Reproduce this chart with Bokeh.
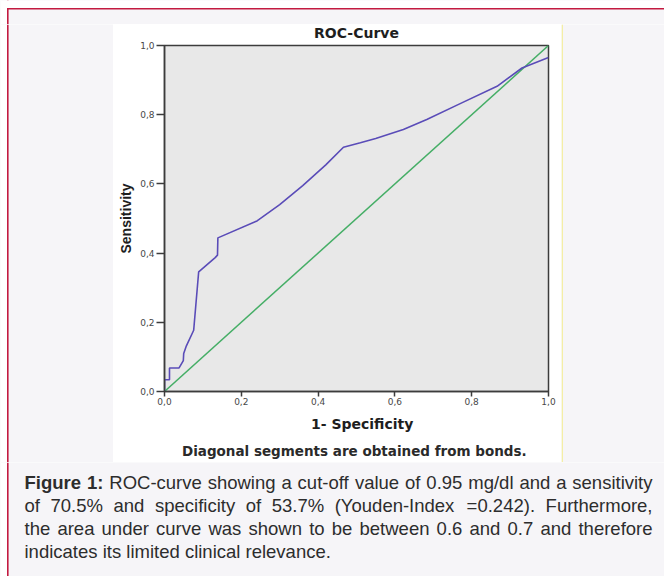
from bokeh.plotting import figure
from bokeh.models import Range1d, FixedTicker, CustomJSTickFormatter
from bokeh.layouts import column, row
from bokeh.core.properties import value
from bokeh.embed import file_html
from bokeh.resources import INLINE

# ---- data ----
fpr = [0.0, 0.0, 0.013, 0.013, 0.038, 0.049, 0.050, 0.057, 0.076, 0.089, 0.132, 0.138,
       0.139, 0.241, 0.300, 0.360, 0.420, 0.466, 0.510, 0.550, 0.622, 0.683, 0.770,
       0.866, 0.931, 1.0]
tpr = [0.0, 0.034, 0.034, 0.068, 0.068, 0.089, 0.110, 0.132, 0.177, 0.346, 0.387, 0.394,
       0.444, 0.493, 0.540, 0.595, 0.655, 0.706, 0.719, 0.731, 0.757, 0.786, 0.832,
       0.882, 0.935, 0.965]
diag_x = [0.0, 1.0]
diag_y = [0.0, 1.0]
tick_values = [0.0, 0.2, 0.4, 0.6, 0.8, 1.0]

title_text = "ROC-Curve"
x_label = "1- Specificity"
y_label = "Sensitivity"
footnote = "Diagonal segments are obtained from bonds."
caption_bold = "Figure 1:"
caption_lines = [
    "ROC-curve showing a cut-off value of 0.95 mg/dl and a sensitivity",
    "of 70.5% and specificity of 53.7% (Youden-Index =0.242). Furthermore,",
    "the area under curve was shown to be between 0.6 and 0.7 and therefore",
    "indicates its limited clinical relevance.",
]

# ---- geometry / styles ----
BG = "#f6f5f8"
MAROON = "#c31a40"
YELLOW = "#f4eea6"
INK = "#1e1e1e"
W = 664
TOP_H, MID_H, CAP_H = 24, 438, 114
LEFT_W, CHART_W, RIGHT_W = 113, 448, 103
HEAD_H, PLOT_H, FOOT_H = 16, 370, 52
BL, BR = 51, 13            # chart frame left / right borders
BX, BY, BT = 6.5, 7.5, 1.6  # page frame line position / thickness


def strip_fig(w, h, line=True):
    f = figure(width=w, height=h, output_backend="svg", toolbar_location=None, title=None,
               x_range=Range1d(0, w), y_range=Range1d(h, 0),
               x_axis_location=None, y_axis_location=None, min_border=0,
               background_fill_color=BG, border_fill_color=BG, outline_line_color=None)
    f.grid.visible = False
    if line:
        f.quad(left=0, right=BX, top=0, bottom=h, fill_color="white", line_color=None)
        f.quad(left=BX, right=BX + BT, top=0, bottom=h, fill_color=MAROON, line_color=None)
    return f


def text_fig(h):
    # white strip of the chart panel; x in chart-panel pixels
    f = figure(width=CHART_W, height=h, output_backend="svg", toolbar_location=None,
               title=None, x_range=Range1d(BL, CHART_W - BR), y_range=Range1d(h, 0),
               x_axis_location=None, y_axis_location=None,
               min_border_left=BL, min_border_right=BR, min_border_top=0,
               min_border_bottom=0, background_fill_color="white",
               border_fill_color="white", outline_line_color=None)
    f.grid.visible = False
    return f


# ---- chart ----
p = figure(width=CHART_W, height=PLOT_H, output_backend="svg", toolbar_location=None,
           x_range=Range1d(0, 1), y_range=Range1d(0, 1), title=None,
           min_border_left=BL, min_border_right=BR, min_border_top=5, min_border_bottom=19)
p.background_fill_color = "#e8e8e8"
p.border_fill_color = "white"
p.outline_line_color = "#3c3c3c"
p.outline_line_width = 1.5
p.grid.visible = False

fmt = CustomJSTickFormatter(code="return tick.toFixed(1).replace('.', ',');")
for ax in (p.xaxis[0], p.yaxis[0]):
    ax.ticker = FixedTicker(ticks=tick_values, minor_ticks=[])
    ax.formatter = fmt
    ax.axis_line_color = "#3c3c3c"
    ax.axis_line_width = 1.5
    ax.major_tick_line_color = "#3c3c3c"
    ax.major_tick_line_width = 1.5
    ax.major_tick_in = 0
    ax.minor_tick_line_color = None
    ax.major_label_text_font = "DejaVu Sans"
    ax.major_label_text_font_size = "9px"
    ax.major_label_text_color = "#484848"
p.yaxis.major_tick_out = 8
p.yaxis.major_label_standoff = 2
p.xaxis.major_tick_out = 5
p.xaxis.major_label_standoff = 1
p.yaxis.axis_label = y_label
p.yaxis.axis_label_text_font = "Liberation Sans"
p.yaxis.axis_label_text_font_style = "bold"
p.yaxis.axis_label_text_font_size = "14px"
p.yaxis.axis_label_text_color = INK
p.yaxis.axis_label_standoff = 3

p.line(diag_x, diag_y, line_color="#45ae66", line_width=1.5)
p.line(fpr, tpr, line_color="#5a4cb8", line_width=1.6)

# ---- texts around the chart (chart-panel pixel coordinates) ----
head = text_fig(HEAD_H)
head.text(x=[243], y=[8.3], text=[title_text], text_font=value("DejaVu Sans"),
          text_font_size=value("14px"), text_font_style="bold", text_color=INK,
          text_align="center", text_baseline="alphabetic")

foot = text_fig(FOOT_H)
foot.text(x=[248.7], y=[13.3], text=[x_label], text_font=value("DejaVu Sans"),
          text_font_size=value("14px"), text_font_style="bold", text_color=INK,
          text_align="center", text_baseline="alphabetic")
foot.text(x=[240.8], y=[40.9], text=[footnote], text_font=value("DejaVu Sans"),
          text_font_size=value("13.5px"), text_font_style="bold", text_color="#2a2a2a",
          text_align="center", text_baseline="alphabetic")

# ---- surrounding page panels ----
top = strip_fig(W, TOP_H)
top.quad(left=0, right=W, top=0, bottom=BY, fill_color="white", line_color=None)
top.quad(left=BX, right=W, top=BY, bottom=BY + BT, fill_color=MAROON, line_color=None)

left = strip_fig(LEFT_W, MID_H)
right = strip_fig(RIGHT_W, MID_H, line=False)
right.quad(left=0, right=1.5, top=0, bottom=MID_H, fill_color=YELLOW, line_color=None)

cap = strip_fig(W, CAP_H)

# ---- caption (justified, Arial metrics) ----
REG = {' ': 278, 'a': 556, 'b': 556, 'c': 500, 'd': 556, 'e': 556, 'f': 278, 'g': 556,
       'h': 556, 'i': 222, 'j': 222, 'k': 500, 'l': 222, 'm': 833, 'n': 556, 'o': 556,
       'p': 556, 'q': 556, 'r': 333, 's': 500, 't': 278, 'u': 556, 'v': 500, 'w': 722,
       'x': 500, 'y': 500, 'z': 500, '.': 278, ',': 278, ':': 278, '%': 889, '(': 333,
       ')': 333, '-': 333, '=': 584, '/': 278, 'R': 722, 'O': 778, 'C': 722, 'Y': 667,
       'I': 278, 'F': 611}
for d in "0123456789":
    REG[d] = 556
BOLD = {'F': 611, 'i': 278, 'g': 611, 'u': 611, 'r': 389, 'e': 556, '1': 556, ':': 333,
        ' ': 278}

CAP_SIZE = 18.5
CAP_L, CAP_R = 24, 652
CAP_TOP = TOP_H + MID_H
CAP_BASE = [482 - CAP_TOP, 505 - CAP_TOP, 528 - CAP_TOP, 551 - CAP_TOP]


def wwidth(word, bold):
    tab = BOLD if bold else REG
    return sum(tab.get(c, 556) for c in word) * CAP_SIZE / 1000.0


bx, by, bt, rx, ry, rt = [], [], [], [], [], []
for i, line in enumerate(caption_lines):
    words = [(w, False) for w in line.split(" ")]
    if i == 0:
        words = [(w, True) for w in caption_bold.split(" ")] + words
    widths = [wwidth(w, b) for w, b in words]
    if i < len(caption_lines) - 1:
        gap = (CAP_R - CAP_L - sum(widths)) / (len(words) - 1)
    else:
        gap = REG[' '] * CAP_SIZE / 1000.0
    x = CAP_L
    for (w, b), ww in zip(words, widths):
        if b:
            bx.append(x); by.append(CAP_BASE[i]); bt.append(w)
        else:
            rx.append(x); ry.append(CAP_BASE[i]); rt.append(w)
        x += ww + gap

cap.text(x=rx, y=ry, text=rt, text_font=value("Liberation Sans"),
         text_font_size=value(f"{CAP_SIZE}px"), text_color="#2d2d2d",
         text_align="left", text_baseline="alphabetic")
cap.text(x=bx, y=by, text=bt, text_font=value("Liberation Sans"),
         text_font_size=value(f"{CAP_SIZE}px"), text_font_style="bold",
         text_color="#2d2d2d", text_align="left", text_baseline="alphabetic")

layout = column(top, row(left, column(head, p, foot), right), cap)
open("out.html", "w").write(file_html(layout, INLINE))
